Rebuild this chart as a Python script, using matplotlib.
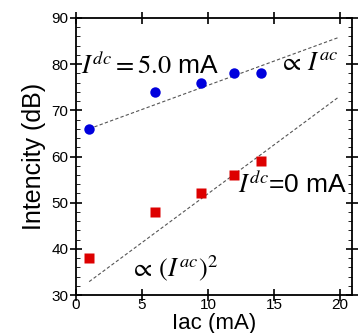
import matplotlib.pyplot as plt
from matplotlib.ticker import MultipleLocator

plt.rcParams['mathtext.fontset'] = 'stix'
plt.rcParams['font.family'] = ['Liberation Sans', 'DejaVu Sans']

# data
iac = [1, 6, 9.5, 12, 14]
dc5 = [66, 74, 76, 78, 78]
dc0 = [38, 48, 52, 56, 59]

# dashed guide lines (endpoints)
fit_x = [1, 19.8]
fit_dc5 = [66, 85.7]
fit_dc0 = [32.9, 72.7]

fig = plt.figure(figsize=(3.6, 3.33), dpi=100)
ax = fig.add_axes([0.211, 0.114, 0.767, 0.832])

ax.plot(fit_x, fit_dc5, ls=(0, (3, 2)), color='#555555', lw=0.8)
ax.plot(fit_x, fit_dc0, ls=(0, (3, 2)), color='#555555', lw=0.8)
ax.plot(iac, dc5, 'o', color='#0000dd', ms=7.5, mec='none')
ax.plot(iac, dc0, 's', color='#dd0000', ms=7, mec='none')

ax.set_xlim(0, 20.9)
ax.set_ylim(30, 90)
ax.xaxis.set_major_locator(MultipleLocator(5))
ax.yaxis.set_major_locator(MultipleLocator(10))
ax.yaxis.set_minor_locator(MultipleLocator(2))
ax.tick_params(axis='y', which='major', direction='inout', length=9, width=1.2,
               right=True, labelsize=11, pad=1)
ax.tick_params(axis='y', which='minor', direction='in', length=3, right=True)
ax.tick_params(axis='x', which='major', direction='inout', length=8, width=1.2,
               top=True, labelsize=11, pad=-2)
for s in ax.spines.values():
    s.set_linewidth(1.3)

ax.set_xlabel('Iac (mA)', fontsize=16, labelpad=1)
ax.set_ylabel('Intencity (dB)', fontsize=18, labelpad=4)

ax.text(0.35, 79.8, r'$I^{dc}=5.0$ mA', fontsize=19, va='center')
ax.text(15.4, 80.3, r'$\propto\,I^{ac}$', fontsize=19, va='center')
ax.text(12.3, 53.9, r'$I^{dc}$=0 mA', fontsize=19, va='center')
ax.text(4.1, 35.9, r'$\propto\,(I^{ac})^2$', fontsize=19, va='center')

fig.savefig('out.png', dpi=100)
